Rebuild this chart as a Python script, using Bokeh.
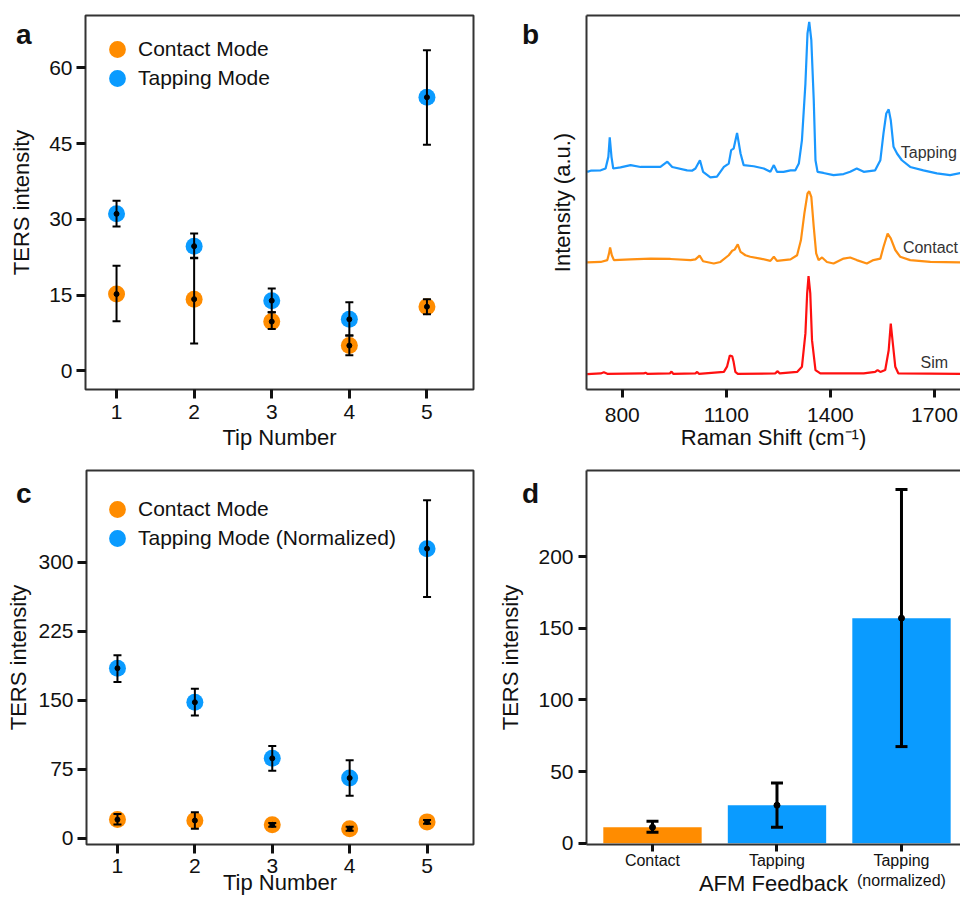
from bokeh.plotting import figure
from bokeh.models import (ColumnDataSource, Whisker, TeeHead, Legend, LegendItem, Div,
                          FixedTicker, LinearAxis, Range1d)
from bokeh.layouts import column, row
from bokeh.embed import file_html
from bokeh.resources import INLINE
from bokeh.core.properties import value

FONT = "Liberation Sans"
ORANGE = "#FF8C00"
BLUE = "#0A9BFF"
LINE_BLUE = "#1A98FF"
LINE_ORANGE = "#FF9012"
LINE_RED = "#FF1010"
INK = "#111111"
FRAME = "#333333"

# ---------------- data ----------------
tips = [1, 2, 3, 4, 5]

# panel a
contact_a = [15.2, 14.2, 9.75, 5.0, 12.7]
contact_a_lo = [9.8, 5.4, 8.3, 3.1, 11.2]
contact_a_hi = [20.8, 22.4, 11.6, 7.0, 14.2]
tapping_a = [31.1, 24.7, 13.9, 10.2, 54.2]
tapping_a_lo = [28.6, 22.3, 11.6, 7.0, 44.8]
tapping_a_hi = [33.7, 27.2, 16.3, 13.6, 63.5]

# panel c
contact_c = [20.4, 19.4, 14.7, 10.4, 17.9]
contact_c_lo = [15.0, 10.4, 12.5, 8.2, 15.8]
contact_c_hi = [26.5, 28.3, 16.8, 12.5, 20.0]
tapping_c = [185, 148, 87, 65.6, 315]
tapping_c_lo = [170, 133.7, 73.5, 46.2, 262.4]
tapping_c_hi = [199, 162.7, 100.4, 85, 367.7]

# panel d
feedback_pos = [1, 2, 3]
feedback_labels = ["Contact", "Tapping", "Tapping\n(normalized)"]
bar_vals = [11.1, 26.5, 157]
bar_lo = [7.7, 11.1, 67.4]
bar_hi = [15.3, 42.0, 246.7]

# panel b spectra (Raman shift in cm-1, intensity in a.u.)
tap_wn = [699, 709, 738, 752, 760, 764, 769, 774, 795, 824, 853, 882, 910, 930, 944,
          987, 1001, 1011, 1024, 1033, 1054, 1073, 1093, 1107, 1114, 1121, 1131, 1141,
          1150, 1179, 1208, 1227, 1237, 1246, 1265, 1285, 1299, 1309, 1318, 1328, 1334,
          1339, 1345, 1352, 1357, 1363, 1380, 1409, 1438, 1457, 1476, 1496, 1529, 1544,
          1553, 1561, 1568, 1574, 1582, 1592, 1606, 1630, 1668, 1707, 1745, 1777, 1800]
tap_int = [58.2, 58.5, 58.6, 59.1, 62.2, 67.4, 62.2, 59.1, 59.4, 60.0, 59.5, 59.5, 59.5,
           60.9, 59.5, 58.6, 58.5, 59.1, 61.3, 58.2, 56.7, 56.9, 59.5, 60.4, 64.0, 64.4,
           68.6, 63.1, 60.0, 59.7, 59.1, 58.2, 60.0, 58.2, 58.2, 58.6, 58.6, 60.4, 66.7,
           81.8, 95.2, 98.3, 93.4, 77.4, 61.3, 58.2, 57.9, 57.3, 57.6, 58.2, 59.1, 58.2,
           58.6, 61.3, 68.5, 73.8, 74.9, 72.0, 64.9, 63.1, 61.3, 59.5, 58.6, 57.8, 57.3,
           57.9, 58.0]

con_wn = [699, 738, 757, 762, 765, 770, 776, 824, 882, 939, 997, 1011, 1023, 1033, 1064,
          1083, 1107, 1117, 1124, 1133, 1141, 1155, 1169, 1198, 1227, 1237, 1246, 1285,
          1304, 1315, 1325, 1334, 1339, 1345, 1352, 1359, 1366, 1376, 1390, 1409, 1438,
          1457, 1476, 1505, 1524, 1544, 1553, 1565, 1574, 1587, 1601, 1630, 1688, 1777, 1800]
con_int = [34.0, 34.1, 34.6, 36.4, 38.0, 35.9, 34.6, 34.8, 35.0, 34.9, 34.6, 34.8, 35.8,
           34.3, 33.7, 34.1, 35.9, 37.1, 37.4, 38.8, 36.8, 35.9, 35.5, 35.0, 34.4, 35.5,
           34.4, 34.8, 35.9, 39.9, 47.1, 52.4, 53.0, 51.5, 43.5, 36.4, 34.6, 35.3, 34.1,
           33.7, 35.0, 35.3, 34.6, 33.7, 34.6, 35.0, 38.1, 41.7, 40.4, 37.3, 35.5, 34.6,
           34.1, 34.0, 34.0]

sim_wn = [699, 738, 747, 757, 862, 867, 872, 937, 942, 947, 1011, 1016, 1021, 1093, 1102,
          1110, 1117, 1121, 1126, 1133, 1241, 1248, 1254, 1304, 1318, 1328, 1333, 1337,
          1342, 1347, 1357, 1371, 1496, 1529, 1536, 1544, 1558, 1568, 1574, 1580, 1587,
          1596, 1777, 1800]
sim_int = [4.1, 4.3, 4.6, 4.2, 4.3, 4.5, 4.2, 4.3, 4.8, 4.2, 4.3, 4.7, 4.2, 4.7, 6.1, 9.1,
           8.9, 7.4, 4.7, 4.2, 4.3, 4.9, 4.3, 4.7, 6.1, 15.0, 25.7, 30.3, 25.7, 13.2, 5.2,
           4.3, 4.3, 4.7, 5.2, 4.7, 5.2, 10.5, 17.6, 12.3, 6.1, 4.3, 4.2, 4.2]

spec_labels = ["Tapping", "Contact", "Sim"]
panel_letters = ["a", "b", "c", "d"]


# ---------------- helpers ----------------
def style_axis(ax, tick_out, lab_standoff, axl_standoff, tick_font="21px"):
    ax.major_tick_out = tick_out
    ax.major_tick_in = 0
    ax.minor_tick_out = 0
    ax.minor_tick_in = 0
    ax.major_tick_line_width = 3
    ax.major_tick_line_color = INK
    ax.major_label_text_font = FONT
    ax.major_label_text_font_size = tick_font
    ax.major_label_text_color = INK
    ax.major_label_standoff = lab_standoff
    ax.axis_label_text_font = FONT
    ax.axis_label_text_font_size = "22px"
    ax.axis_label_text_font_style = "normal"
    ax.axis_label_text_color = INK
    ax.axis_label_standoff = axl_standoff


def base_fig(w, h, xr, yr, bl, br, bt, bb):
    p = figure(width=w, height=h, x_range=Range1d(*xr), y_range=Range1d(*yr),
               output_backend="svg", toolbar_location=None,
               min_border_left=bl, min_border_right=br, min_border_top=bt, min_border_bottom=bb)
    p.xgrid.visible = False
    p.ygrid.visible = False
    p.background_fill_color = "white"
    p.border_fill_color = "white"
    return p


def letter_div(text, left, top):
    return Div(text=text, margin=0,
               styles={"position": "absolute", "left": f"{left}px", "top": f"{top}px",
                       "font-family": FONT, "font-size": "28px", "font-weight": "bold",
                       "color": INK, "line-height": "1", "margin": "0", "padding": "0",
                       "z-index": "10"})


def errbars(p, src, lw=2, head=8):
    w = Whisker(source=src, base="x", upper="hi", lower="lo", dimension="height",
                line_width=lw, line_color="black",
                upper_head=TeeHead(size=head, line_width=lw, line_color="black"),
                lower_head=TeeHead(size=head, line_width=lw, line_color="black"))
    w.level = "overlay"
    p.add_layout(w)


def one_legend(p, label, rend, loc):
    leg = Legend(items=[LegendItem(label=label, renderers=[rend])],
                 location=loc, margin=0, padding=0, spacing=0,
                 glyph_width=42, glyph_height=42, label_standoff=0,
                 label_text_font=FONT, label_text_font_size="21px", label_text_color=INK,
                 border_line_color=None, background_fill_alpha=0)
    p.add_layout(leg)


def scatter_panel(p, c_vals, c_lo, c_hi, t_vals, t_lo, t_hi, labels, locs):
    src_c = ColumnDataSource(dict(x=tips, y=c_vals, lo=c_lo, hi=c_hi))
    src_t = ColumnDataSource(dict(x=tips, y=t_vals, lo=t_lo, hi=t_hi))
    rc = p.scatter("x", "y", source=src_c, size=17, color=ORANGE, line_color=None)
    rt = p.scatter("x", "y", source=src_t, size=17, color=BLUE, line_color=None)
    p.scatter("x", "y", source=src_c, size=5, color="black")
    p.scatter("x", "y", source=src_t, size=5, color="black")
    errbars(p, src_c)
    errbars(p, src_t)
    one_legend(p, labels[0], rc, locs[0])
    one_legend(p, labels[1], rt, locs[1])
    p.outline_line_color = FRAME
    p.outline_line_width = 2
    p.xaxis.ticker = FixedTicker(ticks=tips)
    p.xaxis.axis_label = "Tip Number"
    p.yaxis.axis_label = "TERS intensity"
    p.xaxis.axis_line_color = None
    p.yaxis.axis_line_color = None


# ---------------- panel a ----------------
pa = base_fig(480, 460, (0.6, 5.6), (-3.7, 70.4), 85, 7, 14, 67)
scatter_panel(pa, contact_a, contact_a_lo, contact_a_hi, tapping_a, tapping_a_lo, tapping_a_hi,
              ["Contact Mode", "Tapping Mode"], [(11, 319), (11, 290)])
pa.yaxis.ticker = FixedTicker(ticks=[0, 15, 30, 45, 60])
style_axis(pa.xaxis[0], 9, 6, 3)
style_axis(pa.yaxis[0], 9, 4, 12)

# ---------------- panel c ----------------
pc = base_fig(480, 442, (0.6, 5.6), (-6.7, 400), 86, 7, 9, 55)
scatter_panel(pc, contact_c, contact_c_lo, contact_c_hi, tapping_c, tapping_c_lo, tapping_c_hi,
              ["Contact Mode", "Tapping Mode (Normalized)"], [(10, 314), (10, 285)])
pc.yaxis.ticker = FixedTicker(ticks=[0, 75, 150, 225, 300])
style_axis(pc.xaxis[0], 9, 5, -6)
style_axis(pc.yaxis[0], 9, 4, 4)

# ---------------- panel b ----------------
pb = base_fig(480, 460, (697, 1775), (0, 100), 106, 0, 15, 71)
pb.outline_line_color = None
pb.line(tap_wn, tap_int, line_color=LINE_BLUE, line_width=2.2)
pb.line(con_wn, con_int, line_color=LINE_ORANGE, line_width=2.2)
pb.line(sim_wn, sim_int, line_color=LINE_RED, line_width=2.2)
pb.text(x=[1603, 1609, 1660], y=[63.4, 38.0, 7.2], text=spec_labels,
        text_font=value(FONT), text_font_size="16px", text_color="#333333",
        text_baseline="middle", text_align="left")
pb.xaxis.ticker = FixedTicker(ticks=[800, 1100, 1400, 1700])
pb.xaxis.axis_label = "Raman Shift (cm\u207b\u00b9)"
pb.yaxis.axis_label = "Intensity (a.u.)"
pb.yaxis.ticker = FixedTicker(ticks=[])
style_axis(pb.xaxis[0], 8, 10, 0)
style_axis(pb.yaxis[0], 0, 0, 12)
for ax in (pb.xaxis[0], pb.yaxis[0]):
    ax.axis_line_color = FRAME
    ax.axis_line_width = 2
top_b = LinearAxis(ticker=FixedTicker(ticks=[]), major_tick_out=0, major_tick_in=0,
                   minor_tick_out=0, minor_tick_in=0, major_label_standoff=0,
                   axis_line_color=FRAME, axis_line_width=2)
pb.add_layout(top_b, "above")

# ---------------- panel d ----------------
pd_ = base_fig(480, 442, (0.47, 3.474), (-0.9, 260), 106, 0, 10, 58)
pd_.outline_line_color = None
src_d = ColumnDataSource(dict(x=feedback_pos, top=bar_vals, lo=bar_lo, hi=bar_hi,
                              color=[ORANGE, BLUE, BLUE]))
pd_.vbar(x="x", top="top", bottom=0, width=0.79, color="color", source=src_d, line_color=None)
pd_.scatter("x", "top", source=src_d, size=6, color="black")
errbars(pd_, src_d, lw=3, head=12)
pd_.xaxis.ticker = FixedTicker(ticks=feedback_pos)
pd_.xaxis.major_label_overrides = {k: v for k, v in zip(feedback_pos, feedback_labels)}
pd_.yaxis.ticker = FixedTicker(ticks=[0, 50, 100, 150, 200])
pd_.xaxis.axis_label = "AFM Feedback"
pd_.yaxis.axis_label = "TERS intensity"
style_axis(pd_.xaxis[0], 7, 0, -21, tick_font="16px")
style_axis(pd_.yaxis[0], 8, 5, 12)
for ax in (pd_.xaxis[0], pd_.yaxis[0]):
    ax.axis_line_color = FRAME
    ax.axis_line_width = 2
top_d = LinearAxis(ticker=FixedTicker(ticks=[]), major_tick_out=0, major_tick_in=0,
                   minor_tick_out=0, minor_tick_in=0, major_label_standoff=0,
                   axis_line_color=FRAME, axis_line_width=2)
pd_.add_layout(top_d, "above")

letters = [letter_div(panel_letters[0], 16, 21), letter_div(panel_letters[1], 522, 21),
           letter_div(panel_letters[2], 16, 480), letter_div(panel_letters[3], 522, 480)]

layout = column(row(pa, pb), row(pc, pd_), *letters)
open("out.html", "w").write(file_html(layout, INLINE))
